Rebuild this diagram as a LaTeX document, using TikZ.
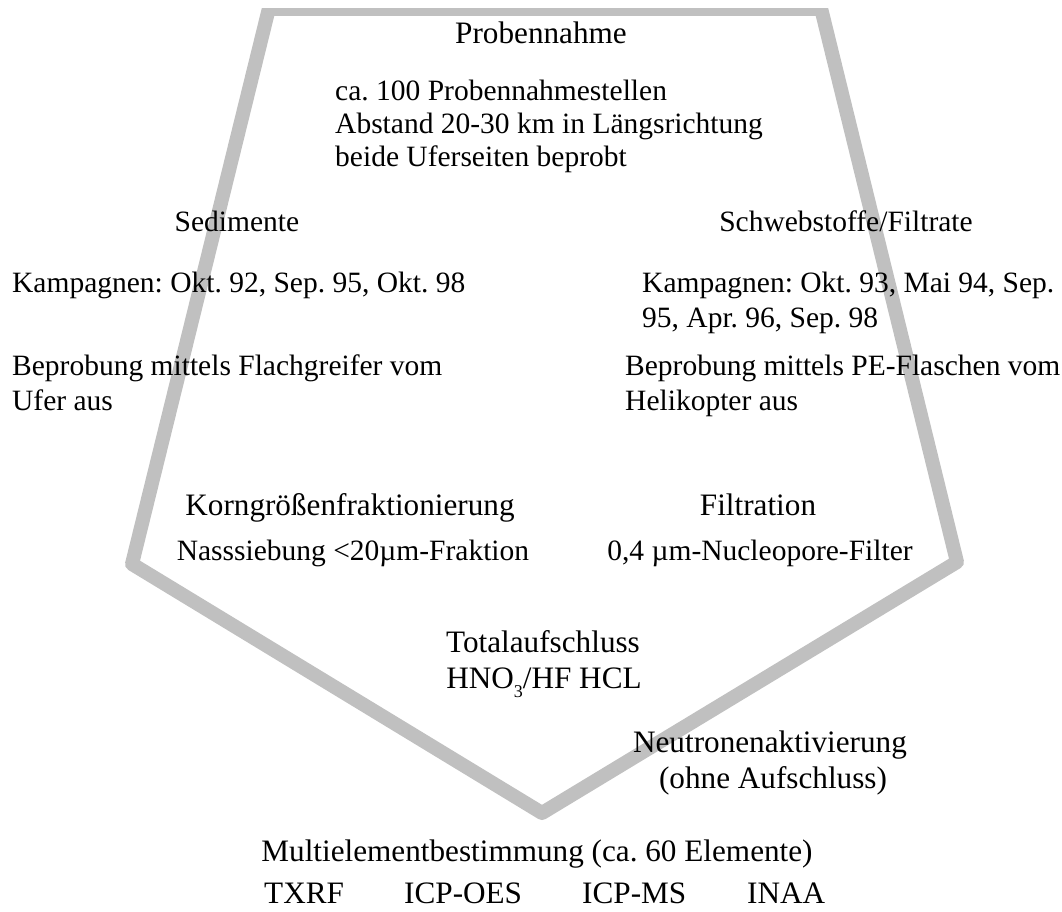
\documentclass[tikz,border=0pt]{standalone}
\usepackage{fontspec}
\setmainfont{Liberation Serif}
\frenchspacing
\definecolor{rimgray}{HTML}{C0C0C0}
\tikzset{
  txt/.style={inner sep=0pt, font=\fontsize{29.5}{34}\selectfont},
  bigtxt/.style={inner sep=0pt, font=\fontsize{31.2}{36}\selectfont},
}
\begin{document}
\begin{tikzpicture}[x=1pt,y=-1pt]
    \useasboundingbox (0,0) rectangle (1062,911);

    % grey frame: thick sides, thinner top edge
    \begin{scope}
        \clip (0,8) rectangle (1062,911);
        \draw[rimgray,line width=14pt,line join=round]
            (271,0) -- (132,564) -- (542,813) -- (957,562) -- (819,0);
    \end{scope}
    \draw[rimgray,line width=7.5pt] (265,11.75) -- (825,11.75);

    \node[bigtxt,anchor=base] (probe) at (541,43) {Probennahme};
    \foreach \t [count=\i] in {ca. 100 Probennahmestellen, Abstand 20-30 km in Längsrichtung, beide Uferseiten beprobt} {
        \node[txt,anchor=base west] (site\i) at (335,{100+33*(\i-1)}) {\t};
    }

    % left branch
    \node[txt,anchor=base] (sed) at (237,231) {Sedimente};
    \node[txt,anchor=base west] (sedkamp) at (12,292) {Kampagnen: Okt. 92, Sep. 95, Okt. 98};
    \foreach \t [count=\i] in {Beprobung mittels Flachgreifer vom, Ufer aus} {
        \node[txt,anchor=base west] (sedbep\i) at (12,{375+35*(\i-1)}) {\t};
    }
    \node[bigtxt,anchor=base] (korn) at (350,515) {Korngrößenfraktionierung};
    \node[txt,anchor=base] (sieb) at (353,560) {Nasssiebung <20µm-Fraktion};

    % right branch
    \node[txt,anchor=base] (schweb) at (846,231) {Schwebstoffe/Filtrate};
    \foreach \t [count=\i] in {{Kampagnen: Okt. 93, Mai 94, Sep.}, {95, Apr. 96, Sep. 98}} {
        \node[txt,anchor=base west] (schkamp\i) at (642,{292+35*(\i-1)}) {\t};
    }
    \foreach \t [count=\i] in {Beprobung mittels PE-Flaschen vom, Helikopter aus} {
        \node[txt,anchor=base west] (schbep\i) at (625,{375+35*(\i-1)}) {\t};
    }
    \node[bigtxt,anchor=base] (filt) at (758,515) {Filtration};
    \node[txt,anchor=base] (filter) at (760,560) {0,4 µm-Nucleopore-Filter};

    % digestion
    \node[bigtxt,anchor=base] (total) at (543,652) {Totalaufschluss};
    \node[bigtxt,anchor=base] (acid) at (544,688)
        {HNO\raisebox{-0.3em}{\fontsize{18}{18}\selectfont 3}/HF HCL};
    \node[bigtxt,anchor=base] (neutron) at (770,752) {Neutronenaktivierung};
    \node[bigtxt,anchor=base] (ohne) at (773,788) {(ohne Aufschluss)};

    % analysis
    \node[bigtxt,anchor=base] (multi) at (537,861) {Multielementbestimmung (ca. 60 Elemente)};
    \node[bigtxt,anchor=base west] (txrf) at (264,903) {TXRF};
    \node[bigtxt,anchor=base west] (oes) at (404,903) {ICP-OES};
    \node[bigtxt,anchor=base west] (ms) at (582,903) {ICP-MS};
    \node[bigtxt,anchor=base west] (inaa) at (747,903) {INAA};

\end{tikzpicture}
\end{document}
